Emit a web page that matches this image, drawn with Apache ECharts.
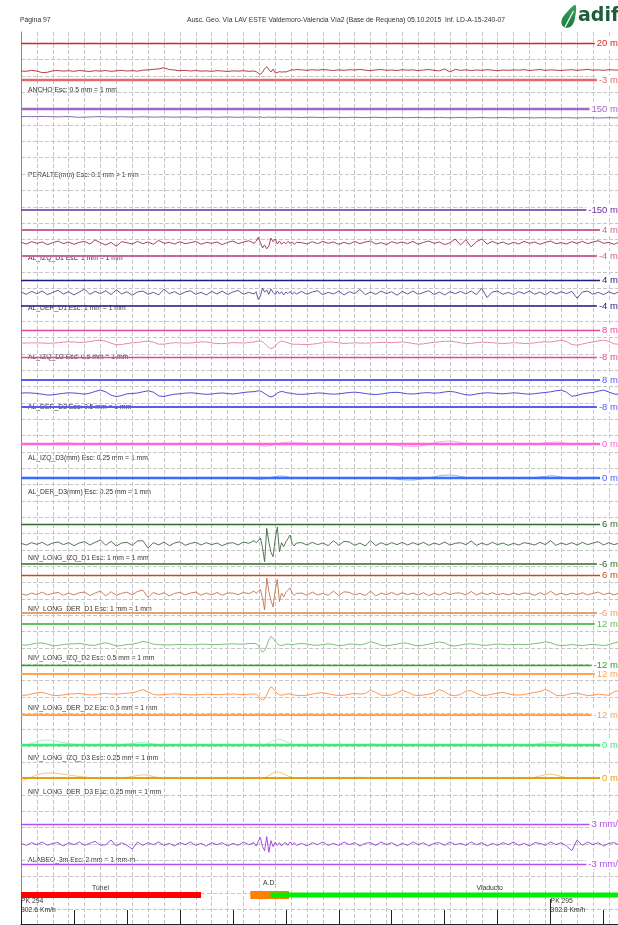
<!DOCTYPE html>
<html>
<head>
<meta charset="utf-8">
<script src="https://cdn.jsdelivr.net/npm/echarts/dist/echarts.min.js"></script>
<style>
  html, body { margin: 0; padding: 0; background: #ffffff; }
  #chart { width: 618px; height: 925px; }
</style>
</head>
<body>
<div id="chart"></div>
<script>
// ---------------------------------------------------------------------------
// Header texts
const pageText = 'Página 97';
const titleText = 'Ausc. Geo. Vía LAV ESTE Valdemoro-Valencia Vía2 (Base de Requena) 05.10.2015  Inf. LD-A-15-240-07';

// Sampling positions, metres from PK 294+000 (denser around the expansion joint)
function range(a, b, step) { const r = []; for (let v = a; v <= b + 1e-9; v += step) r.push(v); return r; }
const dist = range(0, 440, 10).concat(range(444, 520, 4), range(530, 1130, 10));

// Kilometre posts and recorded speed
const pkAt = [0, 1000];
const pkNames = ['PK 294', 'PK 295'];
const pkSpeeds = ['302.6 Km/h', '302.8 Km/h'];

// Structures along the line (metres)
const bandNames = ['Túnel', 'A.D.', 'Viaducto'];
const bandStart = [-40, 433, 471];
const bandEnd = [340, 506, 1299];

// Alarm limits of every channel
const limAncho = [20, -3];
const limPeralte = [150, -150];
const limAlD1 = [4, -4];
const limAlD2 = [8, -8];
const limNivD1 = [6, -6];
const limNivD2 = [12, -12];
const limD3 = [0];
const limAlabeo = [3, -3];

// Channel readings (mm, alabeo in mm/m)
const ancho = [
  2.6,2.4,3.0,2.5,1.6,1.8,2.7,2.9,2.5,2.8, 2.4,2.9,2.6,2.3,2.8,2.5,2.9,2.4,2.7,3.0, 2.6,2.8,2.5,3.1,3.3,3.6,3.9,4.6,3.5,3.2, 2.8,3.0,2.6,2.9,2.5,2.7,2.4,2.8,2.6,2.3, 2.7,2.5,2.8,2.4,2.6,
  2.2,1.2,0.6,1.8,4.0,5.2,3.5,2.0,3.8,1.4,1.6,2.2,1.9,2.1,2.0,2.4,3.0,3.4,3.2,3.5,
  3.3,3.0,3.4,3.1,3.5,3.2,2.9,3.3,3.0,3.4, 3.2,3.6,3.1,2.8,3.3,3.5,3.0,3.2,2.9,3.4, 3.1,3.3,2.8,3.2,3.5,3.0,2.7,3.9,2.0,3.6, 3.0,3.3,2.9,3.2,3.0,3.4,3.1,2.8,3.2,3.0, 3.3,3.1,3.4,2.9,3.2,3.5,3.0,3.3,3.1,2.9, 3.2,3.4,3.0,3.3,3.6,3.1,3.3,3.0,3.4,3.2,3.1
];
const peralte = [
  127.5,127.8,127.2,127.6,128.0,127.4,127.0,126.6,127.2,127.8, 126.2,125.4,125.8,126.4,127.0,127.4,126.8,126.2,126.6,127.1, 126.5,126.0,126.4,126.9,126.3,125.8,126.2,126.6,126.0,125.6, 126.1,126.5,125.9,125.5,126.0,126.4,125.8,125.4,125.9,126.3, 125.7,125.3,125.8,126.2,125.6,
  125.2,125.8,126.4,125.0,124.6,125.6,126.2,125.4,125.0,125.6,125.9,125.3,125.0,125.5,125.8,125.2,124.9,125.4,125.7,125.2,
  124.8,125.3,125.6,125.0,124.6,125.1,125.5,124.9,124.5,125.0, 125.4,124.8,124.4,124.9,125.3,124.7,124.3,124.8,125.2,124.6, 124.2,124.7,125.1,124.5,124.1,124.6,125.0,124.4,124.0,124.5, 124.9,124.3,123.9,124.4,124.8,124.2,123.8,124.3,124.7,124.1, 123.7,124.2,124.6,124.0,123.6,124.1,124.5,123.9,123.5,124.0, 124.4,123.8,123.4,123.9,124.3,123.7,123.3,123.8,124.2,123.6,123.9
];
const alIzqD1 = [
  0.2,-0.3,0.4,-0.1,0.3,-0.5,0.1,0.6,-0.2,0.3, -0.4,0.2,0.5,-0.3,0.9,0.1,-0.6,0.2,-1.0,0.4, 0.1,-0.3,0.5,-0.2,0.3,-0.4,0.8,-0.1,0.2,-0.3, 0.4,-0.2,0.1,0.5,-0.4,0.2,-0.1,0.3,-0.5,0.2, 0.6,-0.2,0.3,0.7,-0.1,
  0.5,1.8,0.2,-1.5,-0.6,-1.8,-0.9,1.5,0.4,1.2,-0.3,0.6,-0.4,0.3,-0.2,0.5,-0.1,0.3,-0.4,0.2,
  0.1,-0.3,0.4,-0.2,0.5,-0.1,0.3,-0.4,0.2,-0.3, 0.5,-0.2,0.3,0.6,-0.3,0.1,-0.5,0.4,-0.1,0.3, -0.2,0.5,-0.4,0.2,0.6,-0.1,0.3,-0.5,0.1,1.2, -0.6,1.0,-1.2,0.4,1.2,-0.3,0.5,-0.2,0.3,-0.4, 0.2,-0.3,0.5,-0.1,0.3,-0.4,0.2,0.6,-0.2,0.1, -0.3,0.4,-0.1,0.5,-0.2,0.3,0.7,-0.1,0.2,-0.4,0.3
];
const alDerD1 = [
  0.3,-0.4,0.5,-0.2,0.6,-0.5,0.2,0.8,-0.3,0.4, -0.6,0.3,1.2,-0.4,0.5,-0.2,0.7,-0.5,1.0,-0.3, 0.4,-0.7,0.3,0.6,-0.4,0.2,-0.6,1.2,-0.2,0.4, -0.5,0.3,0.7,-0.4,0.2,-0.6,0.5,-0.3,0.6,-0.5, 0.3,0.8,-0.4,0.2,-0.3,
  0.4,-2.0,-1.0,1.5,0.3,0.9,-0.4,1.2,0.2,-0.5,0.6,-0.3,0.4,-0.6,0.3,-0.2,0.5,-0.4,0.2,-0.3,
  0.5,-0.4,0.3,0.7,-0.5,0.2,-0.3,0.6,-0.6,0.4, -0.2,1.1,-0.5,0.3,-0.4,0.6,-0.2,0.4,-0.7,0.5, -0.3,0.6,-0.4,0.2,0.7,-0.5,0.3,-0.6,0.4,-0.2, 0.5,-0.3,0.6,-0.5,1.5,-1.4,0.3,0.6,-0.4,0.2, -0.5,0.4,-0.2,0.6,-0.4,0.3,-0.6,0.5,-0.3,0.4, -0.2,0.5,-1.6,0.3,0.6,-0.4,0.2,-0.5,0.4,-0.3,0.5
];
const alIzqD2 = [
  0.2,0.3,0.4,0.4,0.3,0.1,0.2,0.5,0.8,1.0, 0.9,0.6,0.7,1.2,1.7,2.0,1.4,0.2,-0.8,-0.6, 0.0,0.4,0.6,1.1,1.4,0.8,-0.4,-0.4,0.1,0.5, 0.4,0.2,0.3,0.6,1.0,0.9,0.4,0.0,-0.1,0.2, 0.5,0.4,0.3,0.6,0.9,
  1.2,1.5,1.6,1.0,0.0,-1.2,-2.4,-3.0,-2.6,-1.4,0.0,1.0,1.4,1.2,0.8,0.4,0.0,-0.3,-0.5,-0.4,
  -0.6,-0.7,-0.4,0.0,0.5,0.9,0.8,0.4,0.0,0.2, 0.4,0.3,0.2,0.3,0.5,0.7,0.6,0.5,0.7,0.9, 0.6,0.0,-0.4,-0.2,0.3,0.7,1.0,1.3,1.4,1.0, 0.4,0.0,0.1,0.5,0.8,0.7,0.5,0.2,0.0,0.2, 0.5,0.3,0.0,0.1,0.4,0.8,1.0,0.9,1.4,2.0, 1.2,-0.6,-1.0,-0.3,0.4,0.9,1.6,2.0,1.2,-0.2,-0.5
];
const alDerD2 = [
  0.2,0.4,0.3,0.0,-0.4,-0.9,-0.8,-0.3,0.1,0.4, 0.3,0.0,-0.4,0.2,1.2,2.0,1.0,-1.0,-1.9,-1.2, -0.2,0.0,0.3,1.0,1.6,0.8,-1.4,-1.8,-1.0,-0.4, -0.2,0.2,0.4,0.2,-0.2,-0.5,-0.3,0.1,0.3,0.0, -0.3,0.1,0.6,0.9,1.1,
  1.3,1.6,1.4,0.8,0.0,-0.8,-1.6,-2.0,-1.6,-0.8,0.2,0.9,1.2,1.0,0.6,0.3,0.2,0.0,-0.2,-0.4,
  -0.5,-0.3,0.0,0.3,0.2,-0.2,-0.4,-0.2,0.2,0.6, 0.8,0.5,0.0,-0.4,-0.6,-0.3,0.2,0.6,0.7,0.3, -0.2,-0.3,0.0,0.4,0.5,0.2,0.4,0.9,1.3,0.8, 0.0,-0.8,-0.9,-0.3,0.2,0.4,0.3,0.0,-0.2,0.1, 0.4,0.2,-0.2,-0.4,-0.1,0.3,0.6,1.0,1.6,2.0, 0.8,-1.6,-1.2,-0.2,0.3,0.6,1.4,2.0,0.9,-0.3,-0.5
];
const alIzqD3 = [
  0.0,0.1,0.1,0.0,-0.1,0.0,0.2,0.4,0.5,0.4, 0.3,0.1,0.0,-0.1,0.0,0.1,0.2,0.1,0.0,-0.1, -0.1,0.0,0.1,0.2,0.1,0.0,-0.1,-0.2,-0.1,0.0, 0.1,0.2,0.2,0.1,0.0,-0.1,0.0,0.1,0.1,0.0, -0.1,-0.2,-0.1,0.0,0.0,
  -0.2,-0.4,-0.6,-0.8,-0.9,-0.8,-0.7,-0.5,-0.3,-0.1,0.1,0.3,0.5,0.6,0.7,0.8,0.8,0.7,0.6,0.5,
  0.4,0.3,0.1,0.0,-0.1,-0.2,-0.1,0.0,0.1,0.0, -0.2,-0.3,-0.2,0.0,0.1,0.0,-0.1,-0.3,-0.6,-0.8, -0.9,-1.0,-0.9,-0.6,-0.1,0.5,0.9,1.1,1.2,1.0, 0.6,0.2,0.0,-0.1,0.0,0.1,0.0,-0.1,-0.2,-0.1, 0.0,0.1,0.0,-0.1,0.0,0.2,0.5,0.7,0.8,0.6, 0.3,0.0,-0.2,-0.1,0.0,0.1,0.0,-0.1,0.0,0.1,0.0
];
const alDerD3 = [
  0.0,0.0,0.1,0.0,-0.1,-0.1,0.0,0.1,0.2,0.1, 0.0,-0.1,0.0,0.1,0.2,0.1,0.0,-0.1,-0.1,0.0, 0.1,0.1,0.0,-0.1,-0.2,-0.1,0.0,0.1,0.0,-0.1, -0.2,-0.3,-0.2,-0.1,0.0,0.1,0.0,-0.1,0.0,0.1, 0.0,-0.1,-0.2,-0.2,-0.3,
  -0.4,-0.5,-0.5,-0.4,-0.3,-0.2,0.0,0.2,0.4,0.6,0.7,0.8,0.8,0.7,0.6,0.4,0.2,0.1,0.0,-0.1,
  -0.1,0.0,0.1,0.0,-0.1,-0.2,-0.1,0.0,0.1,0.0, -0.1,-0.2,-0.1,0.0,0.1,0.0,-0.1,-0.3,-0.5,-0.7, -0.8,-0.8,-0.6,-0.3,0.1,0.5,0.9,1.1,1.2,1.0, 0.6,0.2,0.0,-0.2,-0.2,-0.1,0.0,0.1,0.0,-0.1, -0.2,-0.1,0.0,0.1,0.2,0.4,0.7,0.9,0.8,0.4, 0.0,-0.3,-0.4,-0.3,-0.1,0.0,0.1,0.0,-0.1,0.0,0.1
];
const nivIzqD1 = [
  0.2,-0.3,0.4,-0.1,0.5,-0.4,0.3,0.6,-0.2,0.4, -0.5,0.3,0.7,-0.3,0.5,1.2,-0.4,0.8,-0.6,0.3, 0.5,-0.4,0.9,1.0,-1.2,0.4,-0.3,0.6,-0.5,0.3, 0.7,-0.4,0.2,0.5,-0.3,0.4,-0.2,0.3,-0.5,0.2, 0.4,-0.3,0.6,0.2,1.0,
  0.4,1.0,1.8,-1.0,-5.3,4.7,0.5,-2.5,-3.8,1.5,5.1,-2.3,0.4,-0.8,0.6,1.6,2.7,0.2,-0.6,0.3,
  0.4,-0.3,0.5,-0.2,0.3,-0.5,1.0,-0.4,0.8,0.6, -0.4,0.3,-0.6,1.0,-0.5,0.4,-0.3,0.4,-0.2,0.5, -0.3,0.4,-0.2,0.5,-0.4,0.3,-0.2,0.6,-0.3,0.2, 0.4,-0.2,0.9,-0.4,0.3,-0.3,0.5,-0.2,0.3,-0.4, 0.2,-0.3,0.4,0.1,-0.3,0.5,-0.2,1.0,-0.4,0.3, -0.2,0.4,-0.3,0.5,-0.2,0.3,0.7,-0.3,0.4,-0.2,0.3
];
const nivDerD1 = [
  0.1,-0.4,0.3,-0.2,0.6,-0.3,0.2,0.5,-0.4,0.3, -0.3,0.4,0.6,-0.5,0.3,0.9,-0.6,0.7,-0.4,0.2, 0.6,-0.3,0.8,1.2,-1.0,0.5,-0.2,0.4,-0.6,0.2, 0.5,-0.3,0.3,0.6,-0.4,0.3,-0.3,0.5,-0.4,0.3, 0.3,-0.2,0.5,0.1,0.9,
  0.2,0.8,1.5,-1.2,-5.0,5.0,0.8,-2.0,-4.1,1.2,4.6,-2.4,0.3,-0.9,0.5,1.2,1.9,0.3,-0.5,0.2,
  0.3,-0.4,0.6,-0.3,0.2,-0.4,0.9,-0.5,0.7,0.5, -0.3,0.2,-0.5,0.9,-0.6,0.3,-0.2,0.5,-0.3,0.4, -0.2,0.3,-0.3,0.4,-0.5,0.2,-0.3,0.5,-0.2,0.3, 0.3,-0.3,0.8,-0.3,0.4,-0.2,0.4,-0.3,0.2,-0.3, 0.3,-0.2,0.3,0.2,-0.4,0.4,-0.3,0.9,-0.3,0.2, -0.3,0.3,-0.2,0.4,-0.3,0.2,0.6,-0.2,0.3,-0.3,0.4
];
const nivIzqD2 = [
  -0.2,-0.4,0.2,0.8,0.9,0.2,-0.8,-0.6,0.0,0.3, 0.4,0.6,0.2,-0.4,-0.5,0.5,1.0,0.2,-0.9,-0.6, 0.0,0.2,0.8,1.9,1.2,0.2,-0.1,-0.2,-0.3,-0.1, 0.1,0.0,-0.2,0.0,0.2,0.1,-0.1,0.0,0.1,0.3, 0.4,0.2,0.3,0.5,0.6,
  0.5,-0.5,-3.0,-4.5,-3.6,-0.8,2.8,4.7,3.6,1.8,0.5,-0.4,-0.6,-0.3,0.1,0.3,0.1,-0.1,0.0,0.3,
  0.6,0.3,-0.3,-0.5,0.0,0.4,0.0,-0.7,-0.4,0.3, 0.2,-0.3,0.4,1.6,0.8,-0.5,-0.8,-0.3,0.2,0.9, 0.7,-0.3,-0.8,-0.4,0.2,0.8,1.5,0.9,-0.6,-0.9, -0.3,0.3,0.4,0.1,-0.4,-0.5,0.0,0.3,0.1,-0.2, 0.0,0.1,-0.1,0.2,0.5,0.9,1.6,1.0,-0.2,-0.7, -0.4,0.0,-0.4,-0.6,-0.2,0.1,-0.3,-0.6,-0.1,0.9,1.6
];
const nivDerD2 = [
  -0.5,-0.4,0.3,1.0,1.2,0.4,-0.5,-0.6,-0.2,0.2, 0.4,0.6,0.2,-0.2,-0.2,0.4,0.6,0.3,0.2,0.4, 0.8,1.0,1.8,2.9,1.6,0.0,-0.3,0.0,0.2,0.4, 0.2,0.0,-0.2,-0.2,0.0,0.2,0.1,-0.1,0.0,0.2, 0.3,0.1,0.0,0.2,0.3,
  0.2,-0.8,-2.4,-3.3,-2.6,-0.2,2.6,4.5,3.6,1.8,0.6,-0.2,-0.4,-0.2,0.2,0.4,0.3,0.0,-0.3,-0.5,
  -0.6,-0.4,0.2,0.8,1.0,0.4,-0.2,-0.6,-0.4,0.2, 0.6,0.2,0.6,2.5,1.2,-0.4,-0.6,-0.2,0.8,2.5, 1.4,-0.2,-0.6,-0.3,0.2,1.0,2.9,1.6,-0.4,-0.6, 0.0,2.0,2.3,0.6,-0.6,-0.4,0.2,0.8,1.2,0.4, -0.2,-0.3,0.0,0.6,1.2,1.8,2.9,1.6,-0.4,-0.8, -0.2,0.6,0.8,0.0,-0.6,-0.4,0.2,-0.2,-0.4,1.6,2.5
];
const nivIzqD3 = [
  -0.8,-0.2,0.6,1.4,1.9,2.0,1.8,1.4,1.0,0.6, 0.3,0.0,-0.2,-0.1,0.0,0.1,0.2,0.1,0.0,0.2, 0.4,0.6,0.9,1.0,0.8,0.4,0.1,0.0,-0.1,-0.2, -0.1,0.0,0.1,0.0,-0.1,-0.2,-0.1,0.0,0.1,0.0, -0.1,-0.2,-0.2,-0.1,0.0,
  0.0,-0.2,-0.3,-0.2,0.0,0.4,0.8,1.3,1.7,2.1,2.3,2.3,2.1,1.8,1.4,1.0,0.7,0.4,0.2,0.1,
  0.0,-0.1,-0.2,-0.2,-0.1,0.0,0.1,0.0,-0.1,-0.2, -0.1,0.0,0.2,0.4,0.3,0.1,0.0,-0.1,-0.2,-0.1, 0.0,0.1,0.0,-0.1,-0.2,-0.2,-0.1,0.0,0.2,0.3, 0.2,0.0,-0.1,-0.2,-0.1,0.0,0.1,0.0,-0.1,0.0, 0.1,0.0,-0.1,0.0,0.2,0.6,1.0,1.3,1.1,0.6, 0.2,0.0,-0.1,-0.2,-0.1,0.0,0.1,0.0,-0.1,0.0,0.1
];
const nivDerD3 = [
  -1.3,-0.5,0.4,1.2,1.8,2.0,2.0,1.8,1.5,1.2, 0.9,0.6,0.4,0.2,0.1,0.0,0.1,0.2,0.1,0.0, 0.3,0.6,1.0,1.3,1.1,0.6,0.2,0.0,-0.1,0.0, 0.1,0.0,-0.1,-0.2,-0.1,0.0,0.1,0.0,-0.1,0.0, 0.1,0.0,-0.1,0.0,0.1,
  0.0,-0.2,-0.3,-0.2,0.1,0.5,1.0,1.5,2.0,2.3,2.4,2.3,2.0,1.6,1.2,0.8,0.5,0.3,0.1,0.0,
  -0.1,-0.2,-0.1,0.0,0.1,0.0,-0.2,-0.3,-0.2,0.0, 0.2,0.3,0.2,0.0,-0.1,-0.2,-0.1,0.0,0.1,0.2, 0.1,0.0,-0.1,-0.2,-0.1,0.0,0.2,0.3,0.2,0.0, -0.1,-0.2,-0.1,0.0,0.1,0.2,0.1,0.0,-0.1,-0.1, 0.0,0.1,0.0,0.0,0.3,0.8,1.3,1.6,1.2,0.6, 0.2,0.0,-0.1,-0.1,0.0,0.1,0.0,-0.1,0.0,0.1,0.0
];
const alabeo = [
  0.1,-0.2,0.2,-0.1,0.3,-0.2,0.1,0.2,-0.3,0.2, -0.1,0.3,-0.2,0.1,0.4,-0.2,-0.1,0.6,-0.3,0.2, -0.2,-0.75,0.3,-0.2,0.2,-0.1,0.3,-0.2,0.1,-0.3, 0.2,-0.1,0.3,-0.2,0.1,-0.3,0.2,-0.1,0.2,-0.3, 0.1,-0.2,0.3,-0.1,0.2,
  -0.3,0.4,1.0,-0.4,-1.0,1.1,-1.25,0.5,-0.4,0.3,-0.2,0.2,-0.3,0.1,0.2,-0.2,0.3,-0.1,0.2,-0.2,
  0.1,-0.3,0.2,-0.1,0.3,-0.2,0.1,-0.2,0.3,-0.1, 0.2,-0.3,0.1,0.2,-0.2,0.3,-0.1,0.2,-0.3,0.1, -0.2,0.3,-0.1,0.2,-0.3,0.1,0.2,-0.2,0.3,-0.1, 0.1,-0.2,0.3,-0.1,0.2,-0.3,0.1,-0.2,0.2,-0.1, 0.3,-0.2,0.1,-0.3,0.2,0.1,-0.2,0.3,-0.1,0.2, -0.3,-1.0,0.6,-0.2,0.3,-0.1,0.2,-0.3,0.1,0.2,-0.2
];

// ---------------------------------------------------------------------------
// Page layout
const FONT = '"Liberation Sans", Arial, sans-serif';
const X_MAX = 1142;             // metres covered by the strip (it runs past the page edge)
const PX_PER_M = 0.5296;        // horizontal scale of the chart
const LEFT = 21;
const WIDTH = X_MAX * PX_PER_M;
const TEXT = '#333333';

// One strip per channel: vertical placement, colours and caption
const channels = [
  { caption: 'ANCHO Esc: 0.5 mm = 1 mm', values: ancho, limits: limAncho, unit: 'mm', top: 43, bottom: 80, capY: 90,
    lineColors: ['#d0262b', '#e2696b'], lineWidths: [1.4, 2.4], signal: '#b0282c' },
  { caption: 'PERALTE(mm) Esc: 0.1 mm = 1 mm', values: peralte, limits: limPeralte, unit: 'mm', top: 109, bottom: 210, capY: 175,
    lineColors: ['#a367c9', '#6a2c9a'], lineWidths: [2.4, 1.6], signal: '#7d5c9e' },
  { caption: 'AL_IZQ_D1 Esc: 1 mm = 1 mm', values: alIzqD1, limits: limAlD1, unit: 'mm', top: 230, bottom: 256, capY: 258,
    lineColors: ['#c8679a', '#c8679a'], lineWidths: [1.8, 1.8], signal: '#9c2d5e' },
  { caption: 'AL_DER_D1 Esc: 1 mm = 1 mm', values: alDerD1, limits: limAlD1, unit: 'mm', top: 280, bottom: 306, capY: 308,
    lineColors: ['#1d1d80', '#1d1d80'], lineWidths: [1.4, 1.6], signal: '#4a4a8e' },
  { caption: 'AL_IZQ_D2 Esc: 0.5 mm = 1 mm', values: alIzqD2, limits: limAlD2, unit: 'mm', top: 330, bottom: 357, capY: 357,
    lineColors: ['#e2489c', '#e2489c'], lineWidths: [1.4, 1.4], signal: '#e47aac' },
  { caption: 'AL_DER_D2 Esc: 0.5 mm = 1 mm', values: alDerD2, limits: limAlD2, unit: 'mm', top: 380, bottom: 407, capY: 407,
    lineColors: ['#5b5bf2', '#5b5bf2'], lineWidths: [2, 2], signal: '#3a3ad2' },
  { caption: 'AL_IZQ_D3(mm) Esc: 0.25 mm = 1 mm', values: alIzqD3, limits: limD3, unit: 'mm', top: 424, bottom: 464, capY: 458,
    lineColors: ['#ff66dd'], lineWidths: [2.4], signal: '#ff9de8' },
  { caption: 'AL_DER_D3(mm) Esc: 0.25 mm = 1 mm', values: alDerD3, limits: limD3, unit: 'mm', top: 458, bottom: 498, capY: 492,
    lineColors: ['#3b6cff'], lineWidths: [2.4], signal: '#7aa4ff' },
  { caption: 'NIV_LONG_IZQ_D1 Esc: 1 mm = 1 mm', values: nivIzqD1, limits: limNivD1, unit: 'mm', top: 524, bottom: 564, capY: 558,
    lineColors: ['#2f6b2f', '#2f6b2f'], lineWidths: [1.4, 1.6], signal: '#3d6a3d' },
  { caption: 'NIV_LONG_DER_D1 Esc: 1 mm = 1 mm', values: nivDerD1, limits: limNivD1, unit: 'mm', top: 575, bottom: 613, capY: 609,
    lineColors: ['#c2520c', '#e3a070'], lineWidths: [1.4, 2], signal: '#c2744e' },
  { caption: 'NIV_LONG_IZQ_D2 Esc: 0.5 mm = 1 mm', values: nivIzqD2, limits: limNivD2, unit: 'mm', top: 624, bottom: 665, capY: 658,
    lineColors: ['#5dc25d', '#1fb01f'], lineWidths: [2, 1.4], signal: '#6cb86c' },
  { caption: 'NIV_LONG_DER_D2 Esc: 0.5 mm = 1 mm', values: nivDerD2, limits: limNivD2, unit: 'mm', top: 674, bottom: 715, capY: 708,
    lineColors: ['#ffa352', '#ffa352'], lineWidths: [2, 2], signal: '#ff8a40' },
  { caption: 'NIV_LONG_IZQ_D3 Esc: 0.25 mm = 1 mm', values: nivIzqD3, limits: limD3, unit: 'mm', top: 725, bottom: 765, capY: 758,
    lineColors: ['#33ee77'], lineWidths: [2.4], signal: '#9cf2b4' },
  { caption: 'NIV_LONG_DER_D3 Esc: 0.25 mm = 1 mm', values: nivDerD3, limits: limD3, unit: 'mm', top: 758, bottom: 798, capY: 792,
    lineColors: ['#e0a010'], lineWidths: [2], signal: '#ebc274' },
  { caption: 'ALABEO_3m Esc: 2 mm = 1 mm-m', values: alabeo, limits: limAlabeo, unit: 'mm/m', top: 824, bottom: 864, capY: 860,
    lineColors: ['#b04ff0', '#b04ff0'], lineWidths: [1.4, 1.4], signal: '#a238e2' }
];

const grids = [], xAxes = [], yAxes = [], series = [], graphics = [];

function addGrid(g) {
  grids.push(Object.assign({ left: LEFT, width: WIDTH, containLabel: false, outerBoundsMode: 'none', show: false }, g));
  return grids.length - 1;
}
function hiddenX(gi, extra) {
  return Object.assign({ type: 'value', gridIndex: gi, min: 0, max: X_MAX, show: false }, extra || {});
}

// Dashed background: vertical rules every 30 m
const gV = addGrid({ top: 32, height: 892 });
xAxes.push(hiddenX(gV, {
  show: true, position: 'top', interval: 30,
  axisLine: { show: true, lineStyle: { color: '#8a8a8a', width: 1 } },
  axisTick: { show: false }, axisLabel: { show: false },
  splitLine: { show: true, lineStyle: { color: '#c6c6c6', width: 1, type: [4, 2] } }
}));
yAxes.push({ type: 'value', gridIndex: gV, min: 0, max: 1, position: 'left',
  axisLine: { show: true, lineStyle: { color: '#8a8a8a', width: 1 } },
  axisTick: { show: false }, axisLabel: { show: false }, splitLine: { show: false } });

// Dashed background: horizontal rules
const ROW = 16.34;
const gH = addGrid({ top: 43.36, height: ROW * 53 });
xAxes.push(hiddenX(gH));
yAxes.push({ type: 'value', gridIndex: gH, min: 0, max: 53, interval: 1, inverse: true,
  axisLine: { show: false }, axisTick: { show: false }, axisLabel: { show: false },
  splitLine: { show: true, lineStyle: { color: '#c6c6c6', width: 1, type: [4, 2] } } });

// Channel strips
channels.forEach((ch) => {
  const isZeroOnly = ch.limits.length === 1;
  const gi = addGrid({ top: ch.top, height: ch.bottom - ch.top });
  xAxes.push(hiddenX(gi));
  yAxes.push({ type: 'value', gridIndex: gi, show: false,
    min: isZeroOnly ? -8 : ch.limits[1], max: isZeroOnly ? 8 : ch.limits[0] });
  series.push({
    type: 'line', xAxisIndex: gi, yAxisIndex: gi, animation: false, silent: true,
    symbol: 'none', z: 3,
    data: dist.map((d, k) => [d, ch.values[k]]),
    lineStyle: { color: ch.signal, width: 0.9 },
    markLine: {
      silent: true, animation: false, symbol: ['none', 'none'], precision: 0,
      data: ch.limits.map((v, k) => ({
        yAxis: v,
        lineStyle: { color: ch.lineColors[k], width: ch.lineWidths[k], type: 'solid' },
        label: {
          show: true, position: 'insideEnd', distance: 0,
          formatter: v + ' ' + ch.unit,
          color: ch.lineColors[k], fontSize: 9.5, fontFamily: FONT,
          backgroundColor: '#ffffff', padding: [0, 0, 0, 2]
        }
      }))
    }
  });
  graphics.push({ type: 'text', x: 28, y: ch.capY, silent: true,
    style: { text: ch.caption, fill: TEXT, font: '6.8px ' + FONT, textVerticalAlign: 'middle' } });
});

// Structures strip (tunnel / expansion joint / viaduct)
const bandColors = ['#ff0000', '#ff8000', '#00ee00'];
const bandHeights = [6, 8, 5];
const bandCaptionLift = [7, 12, 7];
const gB = addGrid({ top: 884, height: 22 });
xAxes.push(hiddenX(gB));
yAxes.push({ type: 'value', gridIndex: gB, min: 0, max: 1, show: false });
series.push({
  type: 'custom', xAxisIndex: gB, yAxisIndex: gB, animation: false, silent: true, z: 4,
  data: bandNames.map((n, i) => [bandStart[i], bandEnd[i], 0.5, i]),
  renderItem(params, api) {
    const i = api.value(3);
    const a = api.coord([api.value(0), api.value(2)]);
    const b = api.coord([api.value(1), api.value(2)]);
    const mid = api.coord([(api.value(0) + api.value(1)) / 2, api.value(2)]);
    const h = bandHeights[i];
    const rect = echarts.graphic.clipRectByRect(
      { x: a[0], y: a[1] - h / 2, width: b[0] - a[0], height: h },
      { x: params.coordSys.x, y: params.coordSys.y - 20, width: params.coordSys.width, height: params.coordSys.height + 40 });
    return {
      type: 'group',
      children: [
        { type: 'rect', shape: rect, style: { fill: bandColors[i] } },
        { type: 'text', x: mid[0], y: a[1] - bandCaptionLift[i],
          style: { text: bandNames[i], fill: TEXT, font: '6.8px ' + FONT, textAlign: 'center', textVerticalAlign: 'middle' } }
      ]
    };
  }
});

// Distance axis with kilometre posts
const gA = addGrid({ top: 880, height: 44 });
xAxes.push(hiddenX(gA, {
  show: true, position: 'bottom', interval: 100,
  axisLine: { show: true, lineStyle: { color: '#222222', width: 1 } },
  axisTick: { show: true, inside: true, length: 14, lineStyle: { color: '#222222', width: 1 } },
  axisLabel: {
    show: true, inside: true, margin: 9, align: 'left', verticalAlign: 'bottom',
    fontSize: 6.8, lineHeight: 9, fontFamily: FONT, color: TEXT,
    showMinLabel: true, showMaxLabel: false, hideOverlap: false,
    formatter: (v) => { const k = pkAt.indexOf(v); return k >= 0 ? pkNames[k] + '\n' + pkSpeeds[k] : ''; }
  },
  splitLine: { show: false }
}));
yAxes.push({ type: 'value', gridIndex: gA, min: 0, max: 1, show: false });
xAxes.push(hiddenX(gA, {
  show: true, position: 'bottom', interval: 1000,
  axisLine: { show: false }, axisLabel: { show: false }, splitLine: { show: false },
  axisTick: { show: true, inside: true, length: 25, lineStyle: { color: '#222222', width: 1 } }
}));

// Page header and logo
graphics.push(
  { type: 'text', x: 20, y: 20, silent: true,
    style: { text: pageText, fill: TEXT, font: '6.8px ' + FONT, textVerticalAlign: 'middle' } },
  { type: 'text', x: 346, y: 20, silent: true,
    style: { text: titleText, fill: TEXT, font: '6.8px ' + FONT, textAlign: 'center', textVerticalAlign: 'middle' } },
  { type: 'polygon', silent: true,
    shape: { points: [[575.5, 5], [568, 11], [562, 19], [562, 25], [566, 27.8], [571.5, 26], [574.8, 19]], smooth: 0.35 },
    style: { fill: new echarts.graphic.LinearGradient(0, 0, 0, 1, [{ offset: 0, color: '#35a35a' }, { offset: 1, color: '#1d7a3f' }]) } },
  { type: 'line', silent: true, shape: { x1: 565, y1: 27, x2: 573.5, y2: 11 },
    style: { stroke: '#ffffff', lineWidth: 1.2 } },
  { type: 'text', x: 578, y: 26, silent: true,
    style: { text: 'adif', fill: '#1e5c3c', font: 'bold 19px "DejaVu Sans", sans-serif', textVerticalAlign: 'bottom' } }
);

const chart = echarts.init(document.getElementById('chart'), null, { renderer: 'canvas' });
chart.setOption({
  backgroundColor: '#ffffff',
  animation: false,
  grid: grids,
  xAxis: xAxes,
  yAxis: yAxes,
  series: series,
  graphic: graphics
});
</script>
</body>
</html>
